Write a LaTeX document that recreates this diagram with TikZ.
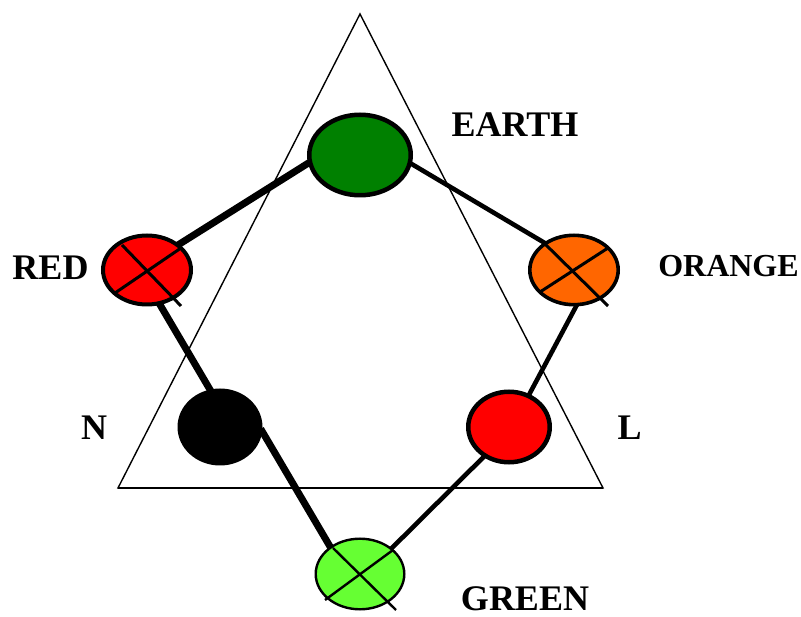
\documentclass[tikz,border=0pt]{standalone}
\usepackage{fontspec}
\setmainfont{Liberation Serif}
\usetikzlibrary{shapes.geometric,backgrounds}
\definecolor{earthgreen}{RGB}{0,128,0}
\definecolor{redfill}{RGB}{255,0,0}
\definecolor{orangefill}{RGB}{255,102,0}
\definecolor{lightgreen}{RGB}{102,255,51}
\begin{document}
\begin{tikzpicture}[x=1pt,y=-1pt,
  blob/.style={ellipse,inner sep=0pt,outer sep=0pt},
  lbl/.style={inner sep=0pt,anchor=base,font=\bfseries\fontsize{36}{41}\selectfont},
  conn/.style={shorten <=-8pt,shorten >=-8pt},
  thickconn/.style={conn,line width=7pt},
  thinconn/.style={conn,line width=4.6pt},
  cross/.style={line width=3pt}]
\useasboundingbox (0,0) rectangle (801,617);
% nodes
\node[blob,draw,line width=4.5pt,fill=earthgreen,minimum width=101.5pt,minimum height=80.5pt] (earth) at (360,155) {};
\node[blob,draw,line width=4pt,fill=redfill,minimum width=88pt,minimum height=69pt] (red) at (147,270) {};
\node[blob,draw,line width=3.6pt,fill=orangefill,minimum width=88.4pt,minimum height=69.4pt] (orange) at (574,270) {};
\node[blob,fill=black,minimum width=85pt,minimum height=77pt] (n) at (220,427) {};
\node[blob,draw,line width=4.5pt,fill=redfill,minimum width=81.5pt,minimum height=70.5pt] (l) at (509,427) {};
\node[blob,draw,line width=2.4pt,fill=lightgreen,minimum width=88.6pt,minimum height=70.6pt] (green) at (360,574) {};
\begin{pgfonlayer}{background}
% triangle
\draw[line width=1.4pt] (360,14) -- (603,488) -- (118,488) -- cycle;
\draw[line width=2pt] (118,488) -- (603,488);
% connectors
\draw[thickconn] (red.39) -- (earth.188);
\draw[thinconn] (earth.-9) -- (orange.137);
\draw[thickconn] (red.-70) -- (n.105);
\draw[thickconn,shorten <=-3pt] (n.-6) -- (green.138);
\draw[thinconn] (orange.-85) -- (l.58);
\draw[thinconn] (l.-130) -- (green.39);
\end{pgfonlayer}
% crosses
\draw[cross] ([shift={(-25,-25)}]red.center) -- ([shift={(34,36)}]red.center);
\draw[cross] ([shift={(-32,23)}]red.center) -- ([shift={(34,-22)}]red.center);
\draw[cross] ([shift={(-31,-28)}]orange.center) -- ([shift={(34,36)}]orange.center);
\draw[cross] ([shift={(-34,22)}]orange.center) -- ([shift={(34,-22)}]orange.center);
\draw[line width=2.4pt] ([shift={(-27,-26)}]green.center) -- ([shift={(36,36)}]green.center);
\draw[line width=2.4pt] ([shift={(-35,26)}]green.center) -- ([shift={(33,-24)}]green.center);
% labels
\node[lbl] (earthlbl) at (515,137) {EARTH};
\node[lbl] (redlbl) at (50.5,280) {RED};
\node[lbl,font=\bfseries\fontsize{32}{37}\selectfont] (orangelbl) at (728.5,277) {ORANGE};
\node[lbl] (nlbl) at (94,440) {N};
\node[lbl] (llbl) at (629.5,440) {L};
\node[lbl] (greenlbl) at (525,610) {GREEN};
\end{tikzpicture}
\end{document}
